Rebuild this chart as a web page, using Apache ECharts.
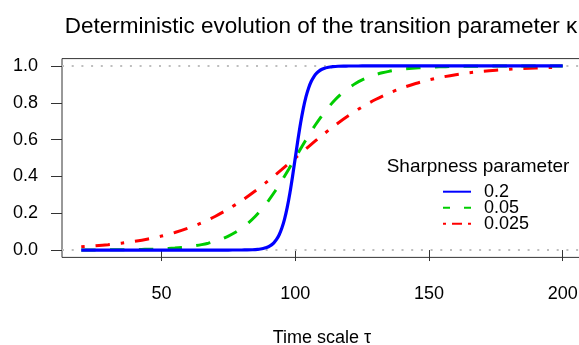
<!DOCTYPE html>
<html>
<head>
<meta charset="utf-8">
<script src="https://cdn.jsdelivr.net/npm/echarts@6/dist/echarts.min.js"></script>
<style>
  html, body { margin: 0; padding: 0; background: #fff; }
  #chart { width: 579px; height: 345px; }
</style>
</head>
<body>
<div id="chart"></div>
<script>
// Transition parameter kappa over time scale tau, for three sharpness values.
const legendLabels = ['0.2', '0.05', '0.025'];

const tauBlue = [20, 40, 60, 70, 75, 78, 80, 82, 84, 86,
  87, 88, 89, 90, 91, 92, 93, 94, 95, 96, 97, 98, 99, 100,
  101, 102, 103, 104, 105, 106, 107, 108, 109, 110, 111, 112, 113, 114,
  116, 118, 120, 122, 125, 130, 140, 160, 180, 200];
const kappaBlue = [0, 0, 0, 0, 0, 0.0002, 0.0003, 0.0007, 0.0017, 0.0037,
  0.0055, 0.0082, 0.0121, 0.0180, 0.0266, 0.0392, 0.0573, 0.0832, 0.1192, 0.1680, 0.2315, 0.3100, 0.4013, 0.5,
  0.5987, 0.6900, 0.7685, 0.8320, 0.8808, 0.9168, 0.9427, 0.9608, 0.9734, 0.9820, 0.9879, 0.9918, 0.9945, 0.9963,
  0.9983, 0.9993, 0.9997, 0.9998, 1, 1, 1, 1, 1, 1];

const tauGreen = [20, 22.5, 25, 27.5, 30, 32.5, 35, 37.5, 40, 42.5, 45, 47.5, 50, 52.5, 55, 57.5,
  60, 62.5, 65, 67.5, 70, 72.5, 75, 77.5, 80, 82.5, 85, 87.5, 90, 92.5, 95, 97.5, 100,
  102.5, 105, 107.5, 110, 112.5, 115, 117.5, 120, 122.5, 125, 127.5, 130, 132.5, 135, 137.5,
  140, 142.5, 145, 147.5, 150, 152.5, 155, 157.5, 160, 162.5, 165, 167.5, 170, 172.5, 175, 177.5,
  180, 182.5, 185, 187.5, 190, 192.5, 195, 197.5, 200];
const kappaGreen = [0.0003, 0.0004, 0.0006, 0.0007, 0.0009, 0.0012, 0.0015, 0.0019, 0.0025, 0.0032, 0.0041, 0.0052, 0.0067, 0.0086, 0.0110, 0.0141,
  0.0180, 0.0230, 0.0293, 0.0373, 0.0474, 0.0601, 0.0759, 0.0953, 0.1192, 0.1480, 0.1824, 0.2227, 0.2689, 0.3208, 0.3775, 0.4378, 0.5,
  0.5622, 0.6225, 0.6792, 0.7311, 0.7773, 0.8176, 0.8520, 0.8808, 0.9047, 0.9241, 0.9399, 0.9526, 0.9627, 0.9707, 0.9770,
  0.9820, 0.9859, 0.9890, 0.9914, 0.9933, 0.9948, 0.9959, 0.9968, 0.9975, 0.9981, 0.9985, 0.9988, 0.9991, 0.9993, 0.9994, 0.9996,
  0.9997, 0.9997, 0.9998, 0.9998, 0.9999, 0.9999, 0.9999, 0.9999, 1.0];

const tauRed = [20, 25, 30, 35, 40, 45, 50, 55, 60, 65, 70, 75, 80, 85, 90, 95, 100,
  105, 110, 115, 120, 125, 130, 135, 140, 145, 150, 155, 160, 165, 170, 175, 180, 185, 190, 195, 200];
const kappaRed = [0.0180, 0.0230, 0.0293, 0.0373, 0.0474, 0.0601, 0.0759, 0.0953, 0.1192, 0.1480, 0.1824, 0.2227, 0.2689, 0.3208, 0.3775, 0.4378, 0.5,
  0.5622, 0.6225, 0.6792, 0.7311, 0.7773, 0.8176, 0.8520, 0.8808, 0.9047, 0.9241, 0.9399, 0.9526, 0.9627, 0.9707, 0.9770, 0.9820, 0.9859, 0.9890, 0.9914, 0.9933];

const xTicks = [50, 100, 150, 200];
const yTicks = [0, 0.2, 0.4, 0.6, 0.8, 1.0];
const refLevels = [0, 1];

const FONT = "'Liberation Sans', Arial, Helvetica, sans-serif";
const pairs = (xs, ys) => xs.map((x, i) => [x, ys[i]]);

const chart = echarts.init(document.getElementById('chart'), null, { renderer: 'canvas' });

chart.setOption({
  animation: false,
  backgroundColor: '#ffffff',
  textStyle: { fontFamily: FONT },
  title: [
    {
      text: 'Deterministic evolution of the transition parameter κ',
      left: 321, top: 15, padding: 0, textAlign: 'center',
      textStyle: { fontFamily: FONT, fontSize: 22.5, fontWeight: 'normal', color: '#000' }
    },
    {
      text: 'Sharpness parameter',
      left: 478, top: 157, padding: 0, textAlign: 'center',
      textStyle: { fontFamily: FONT, fontSize: 19, fontWeight: 'normal', color: '#000' }
    }
  ],
  legend: {
    orient: 'vertical',
    left: 442, top: 182.7, padding: 0,
    itemWidth: 28, itemHeight: 14, itemGap: -2,
    selectedMode: false,
    itemStyle: { opacity: 0 },
    textStyle: { fontFamily: FONT, fontSize: 18, lineHeight: 16, color: '#000', padding: [0, 0, 0, 8] },
    data: [
      { name: legendLabels[0], lineStyle: { type: 'solid' } },
      { name: legendLabels[1], lineStyle: { type: [7, 14] } },
      { name: legendLabels[2], lineStyle: { type: [3, 6, 10, 6] } }
    ]
  },
  grid: {
    left: 62, top: 58.6, width: 520, bottom: 87.6,
    outerBoundsMode: 'none',
    containLabel: false,
    show: true, borderColor: '#333', borderWidth: 1, backgroundColor: 'transparent'
  },
  xAxis: {
    type: 'value', min: 12.8, max: 207.2,
    name: 'Time scale τ', nameLocation: 'middle', nameGap: 72,
    nameTextStyle: { fontFamily: FONT, fontSize: 18, color: '#000' },
    axisLine: { show: false },
    axisTick: { show: true, customValues: xTicks, length: 11, lineStyle: { color: '#333', width: 1 } },
    axisLabel: { customValues: xTicks, margin: 28, fontSize: 18, color: '#000', fontFamily: FONT },
    splitLine: { show: false }
  },
  yAxis: {
    type: 'value', min: -0.04, max: 1.04,
    axisLine: { show: false },
    axisTick: { show: true, customValues: yTicks, length: 11, lineStyle: { color: '#333', width: 1 } },
    axisLabel: {
      customValues: yTicks, margin: 24, fontSize: 18, color: '#000', fontFamily: FONT,
      formatter: v => v.toFixed(1)
    },
    splitLine: { show: false }
  },
  series: [
    {
      name: 'reference levels', type: 'line', data: [], z: 1, silent: true,
      markLine: {
        silent: true, symbol: ['none', 'none'], label: { show: false },
        lineStyle: { color: '#bebebe', width: 2, type: [2, 7.7] },
        data: refLevels.map(v => ({ yAxis: v }))
      }
    },
    {
      name: legendLabels[2], type: 'line', z: 3, showSymbol: false, symbol: 'none',
      data: pairs(tauRed, kappaRed), smooth: 0.3,
      lineStyle: { color: '#ff0000', width: 3, type: [3.6, 10.8, 14.4, 10.8], cap: 'butt' },
      itemStyle: { color: '#ff0000' }
    },
    {
      name: legendLabels[1], type: 'line', z: 4, showSymbol: false, symbol: 'none',
      data: pairs(tauGreen, kappaGreen), smooth: 0.3,
      lineStyle: { color: '#00cd00', width: 3, type: [14.4, 14.4], cap: 'butt' },
      itemStyle: { color: '#00cd00' }
    },
    {
      name: legendLabels[0], type: 'line', z: 5, showSymbol: false, symbol: 'none',
      data: pairs(tauBlue, kappaBlue), smooth: 0.3,
      lineStyle: { color: '#0000ff', width: 3.2, type: 'solid' },
      itemStyle: { color: '#0000ff' }
    }
  ]
});
</script>
</body>
</html>
